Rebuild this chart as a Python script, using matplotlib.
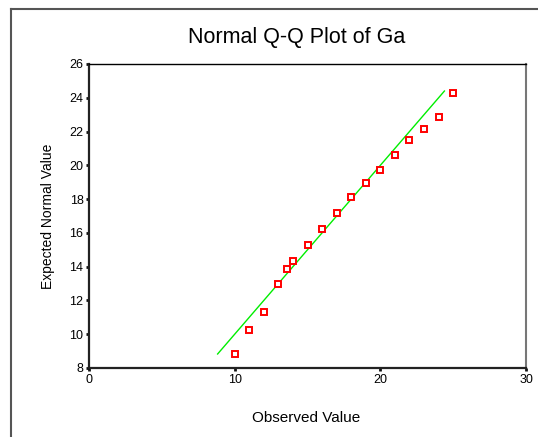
import matplotlib
matplotlib.use("Agg")
import matplotlib.pyplot as plt
from matplotlib.lines import Line2D

plt.rcParams['font.family'] = ['Liberation Sans', 'DejaVu Sans']

observed = [10, 11, 12, 13, 13.6, 14, 15, 16, 17, 18, 19, 20, 21, 22, 23, 24, 25]
expected = [8.81, 10.27, 11.34, 13.0, 13.86, 14.32, 15.26, 16.25, 17.16, 18.11,
            18.95, 19.74, 20.63, 21.48, 22.15, 22.88, 24.26]
line_x = [8.83, 24.4]
line_y = [8.83, 24.4]
x_ticks = [0, 10, 20, 30]
y_ticks = [8, 10, 12, 14, 16, 18, 20, 22, 24, 26]

fig = plt.figure(figsize=(5.38, 4.37), dpi=100)
W, H = 538, 437

# outer frame (left and top edges)
fig.add_artist(Line2D([11 / W, 11 / W], [0, 1 - 9 / H], transform=fig.transFigure,
                      color='#555555', lw=1.5))
fig.add_artist(Line2D([11 / W, 1], [1 - 9 / H, 1 - 9 / H], transform=fig.transFigure,
                      color='#555555', lw=1.5))

ax = fig.add_axes([89 / W, 1 - 368 / H, 437 / W, 304 / H])
ax.plot(line_x, line_y, color='#00ee00', lw=1.0, zorder=2)
ax.plot(observed, expected, linestyle='none', marker='s', markersize=4.4,
        markerfacecolor='white', markeredgecolor='#ff0000', markeredgewidth=1.4, zorder=3)

ax.set_xlim(0, 30)
ax.set_ylim(8, 26)
ax.set_xticks(x_ticks)
ax.set_yticks(y_ticks)
ax.tick_params(axis='both', length=2, width=2, pad=2, labelsize=9, color='#111111')

ax.spines['left'].set_linewidth(1.6)
ax.spines['left'].set_color('#222222')
ax.spines['bottom'].set_linewidth(1.6)
ax.spines['bottom'].set_color('#222222')
ax.spines['top'].set_linewidth(1.0)
ax.spines['top'].set_color('#000000')
ax.spines['right'].set_linewidth(1.5)
ax.spines['right'].set_color('#777777')

fig.text(297 / W, 1 - 38 / H, 'Normal Q-Q Plot of Ga', ha='center', va='center', fontsize=15.5)
fig.text(306 / W, 1 - 418 / H, 'Observed Value', ha='center', va='center', fontsize=11)
fig.text(48 / W, 1 - 216 / H, 'Expected Normal Value', ha='center', va='center',
         rotation=90, fontsize=10)

fig.savefig('out.png', dpi=100)
